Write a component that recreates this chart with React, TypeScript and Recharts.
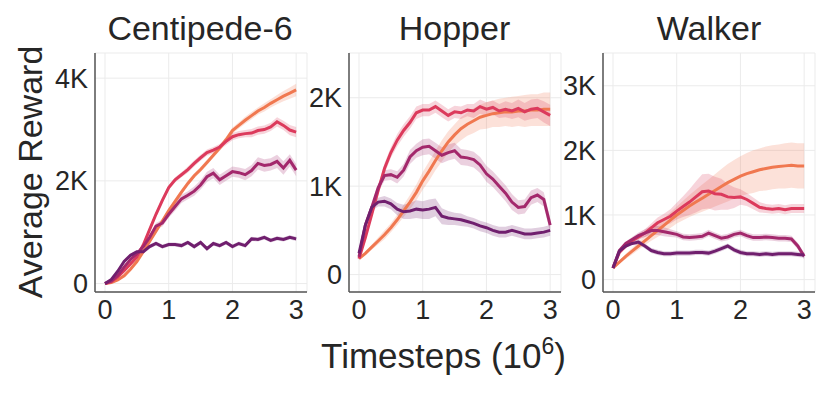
import React from 'react';
import { ComposedChart, Line, Area, XAxis, YAxis, CartesianGrid } from 'recharts';

const X = [0, 0.1, 0.2, 0.3, 0.4, 0.5, 0.6, 0.7, 0.8, 0.9, 1.0, 1.1, 1.2, 1.3, 1.4, 1.5, 1.6, 1.7, 1.8, 1.9, 2.0, 2.1, 2.2, 2.3, 2.4, 2.5, 2.6, 2.7, 2.8, 2.9, 3.0];
const X_TICKS = [0, 1, 2, 3];

// Centipede-6 (thousands)
const C_ORANGE = [0, 0.02, 0.07, 0.15, 0.28, 0.43, 0.62, 0.82, 1.02, 1.22, 1.42, 1.6, 1.78, 1.95, 2.1, 2.22, 2.36, 2.5, 2.64, 2.8, 2.98, 3.08, 3.18, 3.27, 3.36, 3.43, 3.51, 3.58, 3.65, 3.71, 3.77];
const C_RED = [0, 0.04, 0.13, 0.25, 0.38, 0.52, 0.75, 1.05, 1.35, 1.62, 1.87, 2.02, 2.12, 2.22, 2.34, 2.45, 2.55, 2.6, 2.66, 2.77, 2.86, 2.9, 2.92, 2.93, 2.98, 3.0, 3.05, 3.15, 3.08, 2.99, 2.95];
const C_MAGENTA = [0, 0.05, 0.16, 0.32, 0.47, 0.58, 0.72, 0.9, 1.12, 1.18, 1.35, 1.5, 1.65, 1.72, 1.8, 1.92, 2.08, 2.15, 2.02, 2.1, 2.18, 2.16, 2.12, 2.2, 2.34, 2.3, 2.32, 2.38, 2.25, 2.4, 2.21];
const C_PURPLE = [0, 0.08, 0.24, 0.43, 0.55, 0.62, 0.62, 0.72, 0.78, 0.72, 0.76, 0.76, 0.74, 0.8, 0.72, 0.8, 0.68, 0.78, 0.74, 0.8, 0.72, 0.78, 0.74, 0.87, 0.86, 0.9, 0.84, 0.88, 0.86, 0.9, 0.87];
const C_ORANGE_SD = [0, 0.01, 0.02, 0.02, 0.03, 0.03, 0.03, 0.04, 0.04, 0.04, 0.05, 0.05, 0.05, 0.05, 0.05, 0.05, 0.05, 0.05, 0.06, 0.06, 0.06, 0.06, 0.07, 0.07, 0.07, 0.08, 0.08, 0.09, 0.1, 0.11, 0.12];
const C_RED_SD = [0, 0.01, 0.02, 0.03, 0.03, 0.04, 0.04, 0.05, 0.05, 0.05, 0.05, 0.05, 0.05, 0.06, 0.06, 0.06, 0.06, 0.06, 0.06, 0.07, 0.07, 0.07, 0.07, 0.08, 0.08, 0.08, 0.08, 0.09, 0.09, 0.1, 0.1];
const C_MAGENTA_SD = [0, 0.01, 0.02, 0.03, 0.03, 0.04, 0.05, 0.05, 0.06, 0.07, 0.07, 0.08, 0.08, 0.08, 0.09, 0.09, 0.1, 0.1, 0.1, 0.1, 0.1, 0.1, 0.11, 0.11, 0.12, 0.12, 0.12, 0.13, 0.13, 0.12, 0.12];
const C_PURPLE_SD = [0, 0.01, 0.02, 0.03, 0.03, 0.03, 0.04, 0.04, 0.04, 0.04, 0.04, 0.04, 0.04, 0.04, 0.04, 0.04, 0.04, 0.04, 0.04, 0.04, 0.04, 0.04, 0.04, 0.04, 0.04, 0.04, 0.04, 0.04, 0.04, 0.04, 0.04];

// Hopper (thousands)
const H_ORANGE = [0.18, 0.24, 0.31, 0.38, 0.45, 0.53, 0.62, 0.72, 0.82, 0.93, 1.06, 1.17, 1.29, 1.4, 1.5, 1.58, 1.65, 1.7, 1.74, 1.78, 1.8, 1.82, 1.83, 1.84, 1.84, 1.85, 1.85, 1.86, 1.86, 1.87, 1.87];
const H_RED = [0.18, 0.42, 0.68, 0.95, 1.2, 1.38, 1.52, 1.63, 1.72, 1.83, 1.86, 1.86, 1.9, 1.85, 1.8, 1.84, 1.83, 1.86, 1.85, 1.9, 1.87, 1.89, 1.85, 1.87, 1.85, 1.88, 1.84, 1.87, 1.88, 1.84, 1.8];
const H_MAGENTA = [0.2, 0.56, 0.76, 0.98, 1.12, 1.13, 1.1, 1.18, 1.33, 1.4, 1.44, 1.45, 1.4, 1.35, 1.38, 1.4, 1.33, 1.32, 1.3, 1.24, 1.14, 1.08, 1.0, 0.92, 0.82, 0.76, 0.77, 0.87, 0.9, 0.85, 0.56];
const H_PURPLE = [0.24, 0.56, 0.76, 0.82, 0.83, 0.8, 0.74, 0.71, 0.72, 0.74, 0.73, 0.74, 0.76, 0.66, 0.64, 0.63, 0.62, 0.6, 0.58, 0.55, 0.53, 0.5, 0.48, 0.48, 0.5, 0.48, 0.46, 0.46, 0.47, 0.48, 0.5];
const H_ORANGE_SD = [0.01, 0.02, 0.03, 0.04, 0.05, 0.05, 0.06, 0.07, 0.08, 0.09, 0.1, 0.11, 0.11, 0.12, 0.12, 0.12, 0.13, 0.13, 0.14, 0.14, 0.15, 0.15, 0.16, 0.16, 0.17, 0.17, 0.18, 0.18, 0.18, 0.19, 0.19];
const H_RED_SD = [0.02, 0.03, 0.04, 0.05, 0.06, 0.06, 0.07, 0.07, 0.07, 0.07, 0.07, 0.07, 0.07, 0.07, 0.07, 0.07, 0.07, 0.07, 0.08, 0.08, 0.08, 0.08, 0.08, 0.09, 0.09, 0.1, 0.1, 0.11, 0.11, 0.12, 0.12];
const H_MAGENTA_SD = [0.02, 0.03, 0.04, 0.05, 0.06, 0.06, 0.07, 0.07, 0.08, 0.08, 0.09, 0.09, 0.09, 0.09, 0.09, 0.09, 0.09, 0.09, 0.09, 0.09, 0.09, 0.09, 0.09, 0.09, 0.09, 0.08, 0.08, 0.08, 0.08, 0.08, 0.08];
const H_PURPLE_SD = [0.02, 0.03, 0.04, 0.05, 0.06, 0.06, 0.07, 0.08, 0.09, 0.1, 0.1, 0.11, 0.1, 0.09, 0.08, 0.07, 0.07, 0.06, 0.06, 0.06, 0.06, 0.06, 0.06, 0.06, 0.06, 0.06, 0.06, 0.06, 0.06, 0.06, 0.06];

// Walker (thousands)
const W_ORANGE = [0.18, 0.27, 0.36, 0.44, 0.52, 0.6, 0.68, 0.76, 0.84, 0.92, 1.0, 1.07, 1.14, 1.2, 1.26, 1.32, 1.38, 1.44, 1.5, 1.55, 1.6, 1.64, 1.67, 1.7, 1.72, 1.74, 1.75, 1.76, 1.77, 1.76, 1.76];
const W_RED = [0.18, 0.42, 0.52, 0.6, 0.66, 0.72, 0.8, 0.88, 0.93, 0.98, 1.06, 1.13, 1.2, 1.28, 1.36, 1.37, 1.33, 1.32, 1.28, 1.27, 1.28, 1.24, 1.18, 1.12, 1.1, 1.09, 1.1, 1.08, 1.1, 1.1, 1.1];
const W_MAGENTA = [0.18, 0.45, 0.56, 0.62, 0.68, 0.72, 0.76, 0.76, 0.74, 0.72, 0.7, 0.66, 0.65, 0.66, 0.67, 0.72, 0.68, 0.64, 0.66, 0.7, 0.72, 0.68, 0.65, 0.65, 0.66, 0.65, 0.64, 0.64, 0.63, 0.52, 0.36];
const W_PURPLE = [0.18, 0.44, 0.52, 0.56, 0.58, 0.52, 0.45, 0.42, 0.4, 0.4, 0.41, 0.41, 0.41, 0.42, 0.42, 0.41, 0.44, 0.48, 0.52, 0.46, 0.42, 0.4, 0.4, 0.39, 0.4, 0.39, 0.4, 0.4, 0.4, 0.39, 0.38];
const W_ORANGE_SD = [0, 0.02, 0.04, 0.05, 0.06, 0.07, 0.08, 0.1, 0.11, 0.12, 0.13, 0.15, 0.17, 0.19, 0.21, 0.23, 0.25, 0.27, 0.29, 0.3, 0.31, 0.32, 0.33, 0.33, 0.34, 0.34, 0.34, 0.35, 0.35, 0.35, 0.35];
const W_RED_SD = [0, 0.02, 0.03, 0.04, 0.05, 0.06, 0.07, 0.08, 0.09, 0.11, 0.13, 0.16, 0.2, 0.24, 0.27, 0.27, 0.26, 0.24, 0.2, 0.16, 0.12, 0.1, 0.09, 0.08, 0.07, 0.07, 0.07, 0.07, 0.07, 0.07, 0.07];
const W_MAGENTA_SD = [0, 0.02, 0.03, 0.04, 0.05, 0.06, 0.07, 0.07, 0.07, 0.06, 0.05, 0.05, 0.05, 0.05, 0.05, 0.05, 0.05, 0.05, 0.05, 0.05, 0.05, 0.05, 0.05, 0.05, 0.05, 0.05, 0.05, 0.05, 0.05, 0.05, 0.05];
const W_PURPLE_SD = [0, 0.02, 0.03, 0.03, 0.04, 0.04, 0.04, 0.04, 0.04, 0.04, 0.04, 0.04, 0.04, 0.04, 0.04, 0.04, 0.04, 0.04, 0.04, 0.04, 0.04, 0.04, 0.04, 0.04, 0.04, 0.04, 0.04, 0.04, 0.04, 0.04, 0.04];

const COLORS = ['#f07850', '#dc3a5c', '#a3286c', '#701f6e'];
const FONT = '"Liberation Sans", Arial, Helvetica, sans-serif';
const TEXT = '#262626';
const YW = 70;
const PLOT_W = 212;

function build(series: number[][], sds: number[][]) {
  return X.map((x, i) => {
    const row: any = { x };
    series.forEach((s, k) => {
      row['v' + k] = s[i];
      row['b' + k] = [s[i] - sds[k][i], s[i] + sds[k][i]];
    });
    return row;
  });
}

const fmt = (v: number) => (v === 0 ? '0' : `${v}K`);

function Panel({ left, data, domain, ticks }: { left: number; data: any[]; domain: number[]; ticks: number[] }) {
  const tickStyle = { fontSize: 27, fill: TEXT, fontFamily: FONT };
  const axisLine = { stroke: '#555', strokeWidth: 1.5 };
  return (
    <div style={{ position: 'absolute', left: left - YW, top: 0 }}>
      <ComposedChart width={YW + PLOT_W + 2} height={332} data={data} margin={{ top: 53, right: 2, left: 0, bottom: 0 }}>
        <CartesianGrid stroke="#ebebeb" strokeWidth={1} />
        <XAxis dataKey="x" type="number" domain={[-0.157, 3.17]} ticks={X_TICKS} allowDataOverflow interval={0}
          tickLine={false} axisLine={axisLine} tick={tickStyle} height={40} tickSize={6} tickMargin={2} />
        <YAxis type="number" domain={domain} ticks={ticks} allowDataOverflow interval={0} width={YW}
          tickLine={false} axisLine={axisLine} tick={tickStyle} tickFormatter={fmt} tickSize={6} tickMargin={1} />
        {COLORS.map((c, k) => (
          <Area key={'b' + k} dataKey={'b' + k} type="linear" stroke="none" fill={c} fillOpacity={0.22} isAnimationActive={false} />
        ))}
        {COLORS.map((c, k) => (
          <Line key={'v' + k} dataKey={'v' + k} type="linear" stroke={c} strokeWidth={3} dot={false} isAnimationActive={false} />
        ))}
      </ComposedChart>
    </div>
  );
}

const centipede = build([C_ORANGE, C_RED, C_MAGENTA, C_PURPLE], [C_ORANGE_SD, C_RED_SD, C_MAGENTA_SD, C_PURPLE_SD]);
const hopper = build([H_ORANGE, H_RED, H_MAGENTA, H_PURPLE], [H_ORANGE_SD, H_RED_SD, H_MAGENTA_SD, H_PURPLE_SD]);
const walker = build([W_ORANGE, W_RED, W_MAGENTA, W_PURPLE], [W_ORANGE_SD, W_RED_SD, W_MAGENTA_SD, W_PURPLE_SD]);

export default function App() {
  return (
    <div style={{ position: 'absolute', left: 0, top: 0, width: 830, height: 394, background: '#fff', overflow: 'hidden' }}>
      <Panel left={95} data={centipede} domain={[-0.164, 4.49]} ticks={[0, 2, 4]} />
      <Panel left={348.5} data={hopper} domain={[-0.197, 2.506]} ticks={[0, 1, 2]} />
      <Panel left={602.5} data={walker} domain={[-0.192, 3.507]} ticks={[0, 1, 2, 3]} />
      <svg width={830} height={394} style={{ position: 'absolute', left: 0, top: 0, pointerEvents: 'none' }}>
        <g fontFamily={FONT} fill={TEXT} fontSize={34}>
          <text x={200} y={40} textAnchor="middle">Centipede-6</text>
          <text x={454.5} y={40} textAnchor="middle">Hopper</text>
          <text x={709} y={40} textAnchor="middle">Walker</text>
          <text x={42} y={172} textAnchor="middle" transform="rotate(-90 42 172)">Average Reward</text>
          <text x={443.5} y={368} textAnchor="middle" fontSize={35}>
            <tspan>Timesteps (10</tspan>
            <tspan dy={-14} fontSize={23}>6</tspan>
            <tspan dy={14}>)</tspan>
          </text>
        </g>
      </svg>
    </div>
  );
}
